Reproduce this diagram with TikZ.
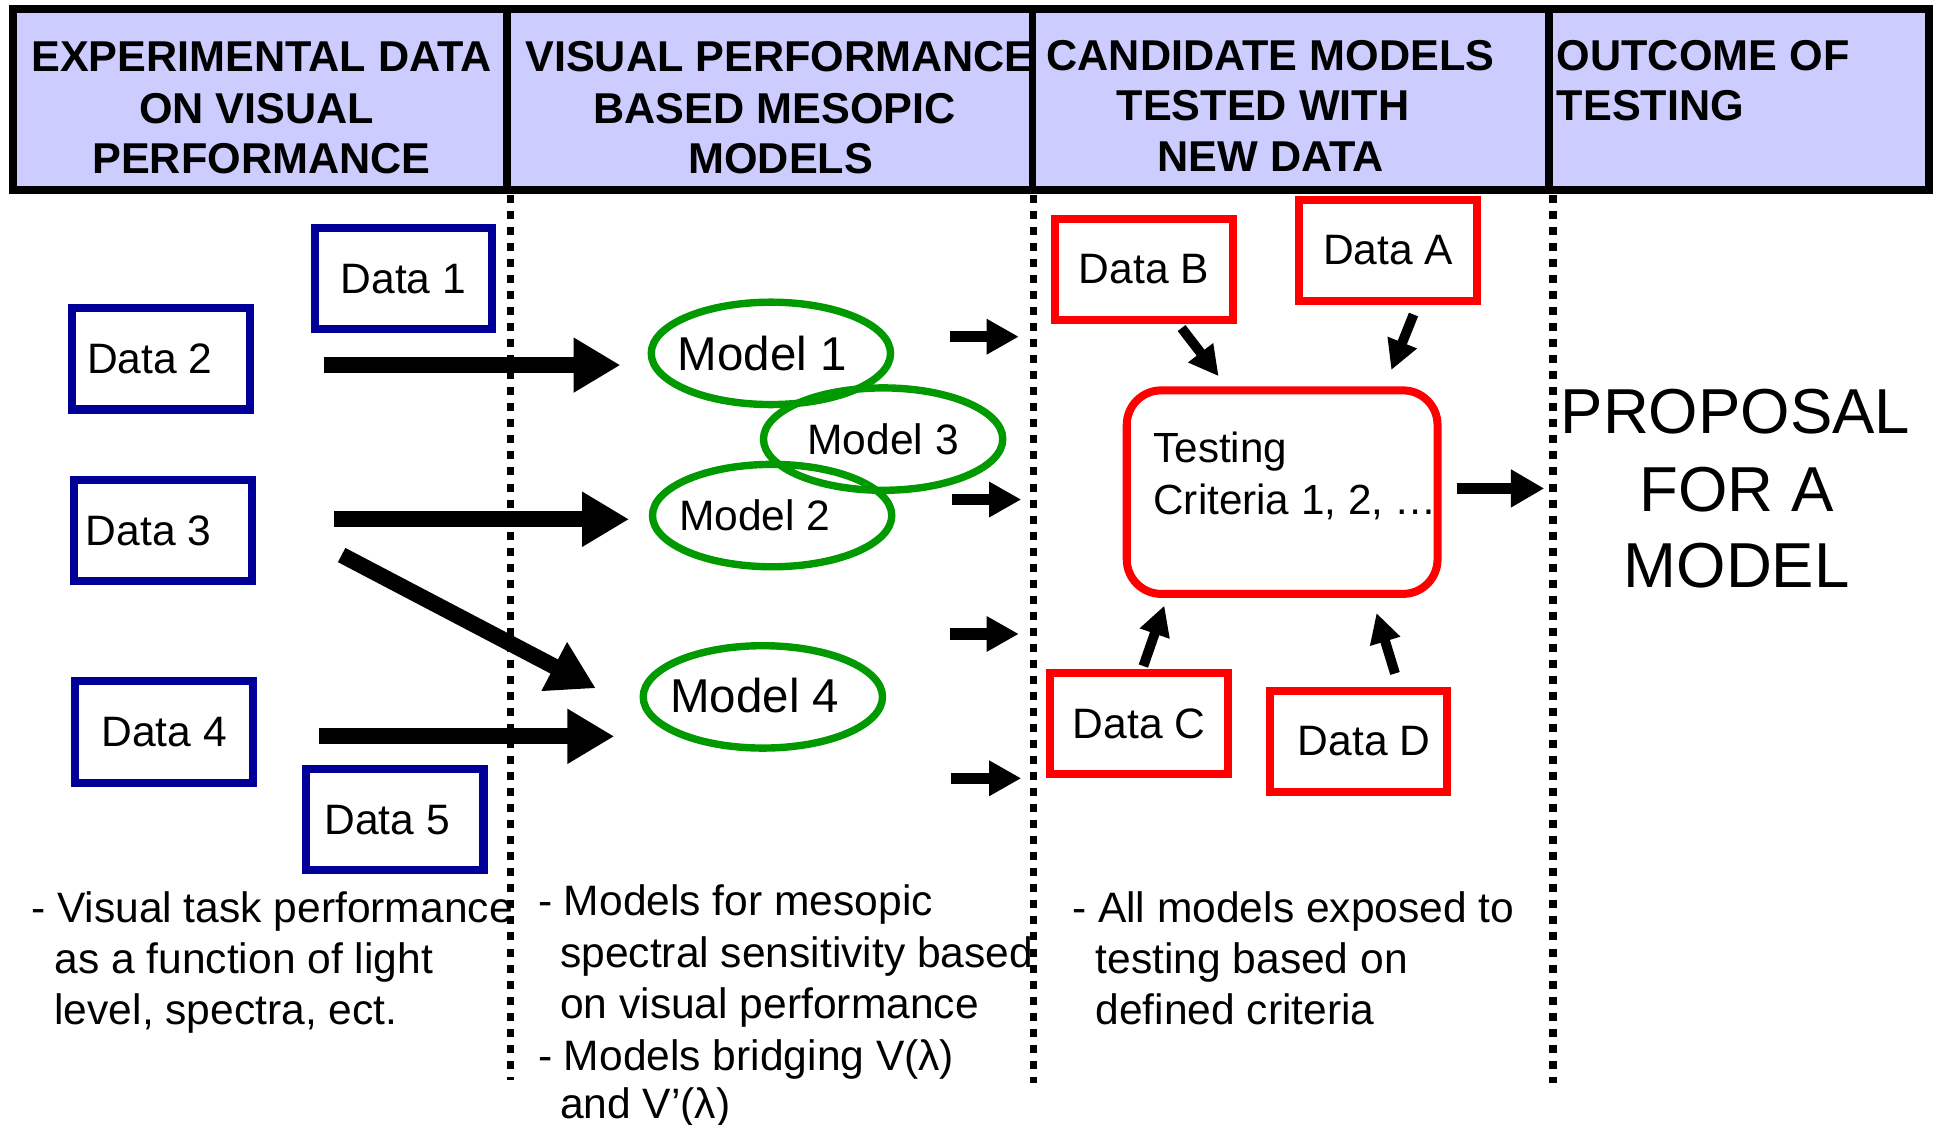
\documentclass[tikz,border=0pt]{standalone}
\usepackage{fontspec}
\setmainfont{Liberation Sans}
\usetikzlibrary{arrows.meta,shapes.geometric}
\definecolor{hdrfill}{HTML}{CCCCFF}
\definecolor{navyb}{HTML}{000099}
\definecolor{greenm}{HTML}{009900}
\definecolor{redd}{HTML}{FF0000}
\tikzset{
 hdrtxt/.style={font=\fontsize{35}{41}\selectfont\bfseries, inner sep=0pt, anchor=base},
 hdrtxtl/.style={hdrtxt, anchor=base west},
 bluebox/.style={draw=navyb, line width=6.5pt, minimum width=144pt, minimum height=82pt, inner sep=0pt, font=\fontsize{34.5}{40}\selectfont},
 redbox/.style={bluebox, draw=redd},
 modelell/.style={ellipse, draw=greenm, line width=6pt, minimum width=194pt, minimum height=83pt, inner sep=0pt, font=\fontsize{34.5}{40}\selectfont},
 bigmodel/.style={modelell, font=\fontsize{38.5}{44}\selectfont},
 bigarrow/.style={line width=13pt, -{Triangle[length=38pt,width=42pt]}},
 smallarrow/.style={line width=9pt, -{Triangle[length=26pt,width=27pt]}},
 midarrow/.style={line width=8pt, -{Triangle[length=24pt,width=24pt]}},
 bodytxt/.style={font=\fontsize{34.5}{41}\selectfont, inner sep=0pt, anchor=base west},
 divider/.style={line width=6pt},
 dotdiv/.style={line width=6pt, dash pattern=on 6.5pt off 6.5pt},
 proptxt/.style={font=\fontsize{51.5}{60}\selectfont, inner sep=0pt, anchor=base},
}
\begin{document}
\begin{tikzpicture}[x=1pt,y=-1pt]
\useasboundingbox (0,0) rectangle (1568,912);
\fill[white] (0,0) rectangle (1568,912);

% header
\draw[line width=6.5pt, fill=hdrfill] (10.5,7) rectangle (1564,154);
\draw[divider] (411,7) -- (411,154);
\draw[divider] (837,7) -- (837,154);
\draw[divider] (1256,7) -- (1256,154);

\node[hdrtxt] (h1a) at (212,58) {EXPERIMENTAL DATA};
\node[hdrtxt] (h1b) at (208,100) {ON VISUAL};
\node[hdrtxt] (h1c) at (212,141) {PERFORMANCE};
\node[hdrtxt] (h2a) at (632,58) {VISUAL PERFORMANCE};
\node[hdrtxt] (h2b) at (628,100) {BASED MESOPIC};
\node[hdrtxt] (h2c) at (633,141) {MODELS};
\node[hdrtxt] (h3a) at (1030,57) {CANDIDATE MODELS};
\node[hdrtxt] (h3b) at (1024,98) {TESTED WITH};
\node[hdrtxt] (h3c) at (1030,139) {NEW DATA};
\node[hdrtxtl] (h4a) at (1262,57) {OUTCOME OF};
\node[hdrtxtl] (h4b) at (1262,98) {TESTING};

% data boxes (blue)
\node[bluebox] (d1) at (327,226) {Data 1};
\node[bluebox] (d2) at (130.5,291) {\raisebox{-4.5pt}{\hspace*{-18pt}Data 2}};
\node[bluebox] (d3) at (132,430) {\raisebox{-6pt}{\hspace*{-23pt}Data 3}};
\node[bluebox] (d4) at (133,593.5) {Data 4};
\node[bluebox] (d5) at (320,664.5) {\raisebox{-5.5pt}{\hspace*{-12pt}Data 5}};

% models
\node[bigmodel] (m1) at (625,286.5) {\raisebox{-2.5pt}{\hspace*{-14pt}Model 1}};
\node[modelell] (m3) at (716,356) {\raisebox{-2pt}{Model 3}};
\node[modelell] (m2) at (626,418) {\raisebox{-2pt}{\hspace*{-28pt}Model 2}};
\node[bigmodel] (m4) at (618.5,565) {\raisebox{2pt}{\hspace*{-13pt}Model 4}};

% big arrows
\coordinate (a1s) at (263,296); \coordinate (a1e) at (503,296);
\coordinate (a2s) at (271,421); \coordinate (a2e) at (510,421);
\coordinate (a3s) at (277,450); \coordinate (a3e) at (483,558);
\coordinate (a4s) at (259,597); \coordinate (a4e) at (498,597);
\draw[bigarrow] (a1s) -- (a1e);
\draw[bigarrow] (a2s) -- (a2e);
\draw[bigarrow] (a3s) -- (a3e);
\draw[bigarrow] (a4s) -- (a4e);

% small arrows
\coordinate (s1s) at (770,273); \coordinate (s1e) at (826,273);
\coordinate (s2s) at (772,405); \coordinate (s2e) at (828,405);
\coordinate (s3s) at (770,514); \coordinate (s3e) at (826,514);
\coordinate (s4s) at (771,631); \coordinate (s4e) at (828,631);
\draw[smallarrow] (s1s) -- (s1e);
\draw[smallarrow] (s2s) -- (s2e);
\draw[smallarrow] (s3s) -- (s3e);
\draw[smallarrow] (s4s) -- (s4e);

% red data boxes
\node[redbox] (db) at (927.5,218.5) {Data B};
\node[redbox] (da) at (1125.5,203) {Data A};
\node[redbox] (dc) at (923.5,586.5) {Data C};
\node[redbox] (dd) at (1101.5,601) {\hspace*{9pt}Data D};

% testing box
\node[draw=redd, line width=6.5pt, rounded corners=28pt, minimum width=252pt, minimum height=165pt, inner sep=0pt] (test) at (1039.5,399) {};
\node[bodytxt, font=\fontsize{34.2}{40}\selectfont] (testa) at (935,375) {Testing};
\node[bodytxt, font=\fontsize{34.2}{40}\selectfont] (testb) at (935,417) {Criteria 1, 2, …};

% arrows to testing
\coordinate (bs) at (958,266); \coordinate (be) at (988,305);
\coordinate (as) at (1146,255); \coordinate (ae) at (1128,300);
\coordinate (cs) at (927,540); \coordinate (ce) at (944,491);
\coordinate (ds) at (1131,546); \coordinate (de) at (1116,497);
\draw[midarrow] (bs) -- (be);
\draw[midarrow] (as) -- (ae);
\draw[midarrow] (cs) -- (ce);
\draw[midarrow] (ds) -- (de);
\coordinate (ts) at (1181,396); \coordinate (te) at (1252,396);
\draw[line width=9pt, -{Triangle[length=27pt,width=29pt]}] (ts) -- (te);

% proposal
\node[proptxt] (p1) at (1407,351.5) {PROPOSAL};
\node[proptxt] (p2) at (1408,414.5) {FOR A};
\node[proptxt] (p3) at (1408,476.5) {MODEL};

% bottom texts
\node[bodytxt] (t1a) at (25,748) {- Visual task performance};
\node[bodytxt] (t1b) at (44,789) {as a function of light};
\node[bodytxt] (t1c) at (44,831) {level, spectra, ect.};
\node[bodytxt] (t2a) at (436,742) {- Models for mesopic};
\node[bodytxt] (t2b) at (454,784) {spectral sensitivity based};
\node[bodytxt] (t2c) at (454,826) {on visual performance};
\node[bodytxt] (t2d) at (436,868) {- Models bridging V(λ)};
\node[bodytxt] (t2e) at (454,907) {and V’(λ)};
\node[bodytxt] (t3a) at (869,748) {- All models exposed to};
\node[bodytxt] (t3b) at (888,789) {testing based on};
\node[bodytxt] (t3c) at (888,831) {defined criteria};

% dotted dividers
\draw[dotdiv] (414,158) -- (414,876);
\draw[dotdiv] (838,158) -- (838,878);
\draw[dotdiv] (1259,158) -- (1259,878);
\end{tikzpicture}
\end{document}
